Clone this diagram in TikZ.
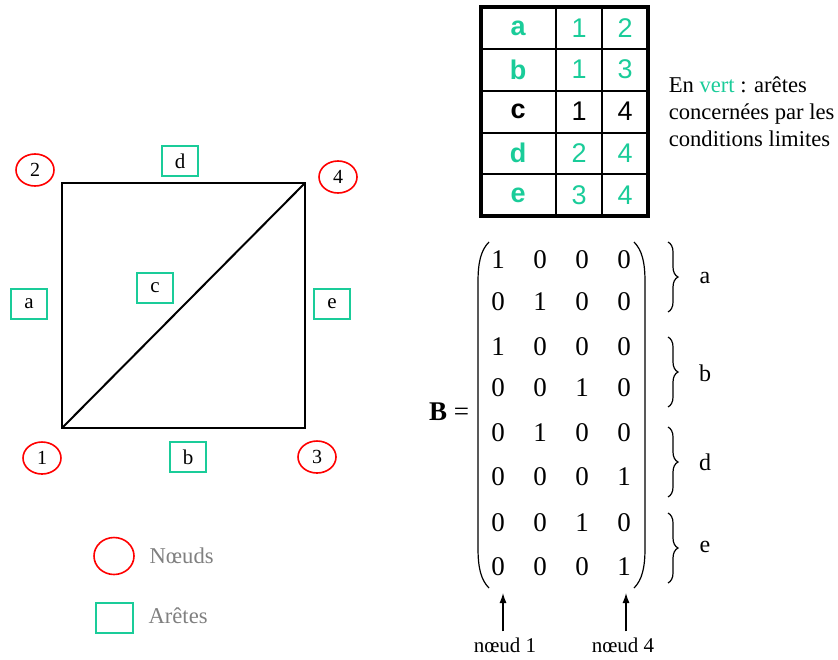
\documentclass[tikz,border=0pt]{standalone}
\usepackage{fontspec}
\setmainfont{Liberation Serif}
\newfontfamily\tabfont{Liberation Sans}
\usetikzlibrary{arrows.meta, positioning, shapes.geometric, decorations.pathreplacing}
\definecolor{vert}{RGB}{26,204,153}

\begin{document}
\begin{tikzpicture}[x=0.5pt, y=-0.5pt, thick]

	\tikzset{
		noeud/.style={
				ellipse, draw=red, line width=0.8pt, inner sep=0pt, minimum width=19pt, minimum height=16pt, font=\fontsize{10}{11}\selectfont
			},
		arete/.style={
				rectangle, draw=vert, line width=0.8pt, inner sep=0pt, minimum width=18pt, minimum height=15pt, font=\fontsize{10.5}{12}\selectfont
			},
		cell/.style={
				inner sep=0pt, font=\tabfont\fontsize{13.5}{15}\selectfont
			},
		entry/.style={
				inner sep=1pt, font=\fontsize{13.5}{15}\selectfont
			},
		legende/.style={
				inner sep=0pt, text=gray, font=\fontsize{11.3}{13}\selectfont
			},
	}
	\useasboundingbox (0,0) rectangle (838,659);

	% maillage
	\coordinate (v1) at (62,428);
	\coordinate (v2) at (62,183);
	\coordinate (v3) at (305,428);
	\coordinate (v4) at (305,183);
	\draw[line width=1pt] (v1) -- (v3) -- (v4) -- (v2) -- cycle;
	\draw[line width=1pt] (v1) -- (v4);

	\node[noeud](n1) at (42,458){1};
	\node[noeud](n2) at (35,170){2};
	\node[noeud](n3) at (317,457){3};
	\node[noeud](n4) at (338,177){4};

	\node[arete](ea) at (29,304){a};
	\node[arete](eb) at (188,457){b};
	\node[arete](ec) at (155,288){c};
	\node[arete](ed) at (180,161){d};
	\node[arete](ee) at (332,304){e};

	% legende
	\node[noeud, minimum width=20pt, minimum height=18.5pt](legN) at (114,556){};
	\node[legende, right=7pt of legN](txtN){Nœuds};
	\node[arete, minimum width=18.5pt](legA) at (114.5,618){};
	\node[legende, right=7pt of legA, yshift=1pt](txtA){Arêtes};

	% tableau
	\draw[line width=1pt] (556,7) -- (556,216) (602,7) -- (602,216);
	\foreach \y in {49,91,133,174}
		\draw[line width=1pt] (481,\y) -- (648,\y);
	\draw[line width=2pt] (481,7) rectangle (648,216);
	\foreach \l/\p/\q/\c [count=\i] in {a/1/2/vert, b/1/3/vert, c/1/4/black, d/2/4/vert, e/3/4/vert}{
		\pgfmathsetmacro\yc{7+41.8*(\i-0.5)}
		\node[cell, text=\c](t\l) at (518,\yc){\bfseries\l};
		\node[cell, text=\c](t\l1) at (579,\yc){\p};
		\node[cell, text=\c](t\l2) at (625,\yc){\q};
	}

	\node[anchor=west, align=left, inner sep=0pt, font=\fontsize{11.3}{13.5}\selectfont](note) at (668,112)
		{En \textcolor{vert}{vert} : arêtes\\concernées par les\\conditions limites};

	% matrice B
	\node[entry](Beq) at (449,412){\textbf{B} =};
	\foreach \r/\y/\ligne in {1/260/{1,0,0,0}, 2/302/{0,1,0,0}, 3/347/{1,0,0,0}, 4/388/{0,0,1,0},
			5/433/{0,1,0,0}, 6/477/{0,0,0,1}, 7/523/{0,0,1,0}, 8/567/{0,0,0,1}}{
		\foreach \v [count=\c] in \ligne
			\node[entry](m\r\c) at ({498+42*(\c-1)},\y){\v};
	}
	\draw[line width=0.6pt] (489,242) .. controls (481,250) and (478,262) .. (478,282) -- (478,548)
		.. controls (478,568) and (481,580) .. (489,588);
	\draw[line width=0.6pt] (634,242) .. controls (642,250) and (645,262) .. (645,282) -- (645,548)
		.. controls (645,568) and (642,580) .. (634,588);

	\foreach \a/\b/\lab/\ly in {242/312/a/278, 337/407/b/373, 427/497/d/462, 513/583/e/547}{
		\draw[decorate, decoration={brace, amplitude=5pt}, line width=0.6pt] (668,\a) -- (668,\b);
		\node[entry, font=\fontsize{12}{14}\selectfont](br\lab) at (705,\ly){\lab};
	}

	\node[entry, anchor=base, outer sep=2pt, font=\fontsize{10.5}{12}\selectfont](lab1) at (505,652){nœud 1};
	\node[entry, anchor=base, outer sep=2pt, font=\fontsize{10.5}{12}\selectfont](lab4) at (623,652){nœud 4};
	\coordinate (tip1) at (503,593);
	\coordinate (tip4) at (626,593);
	\draw[-{Latex[length=5pt,width=3.5pt]}, line width=0.6pt] (lab1.north -| tip1) -- (tip1);
	\draw[-{Latex[length=5pt,width=3.5pt]}, line width=0.6pt] (lab4.north -| tip4) -- (tip4);

\end{tikzpicture}
\end{document}
